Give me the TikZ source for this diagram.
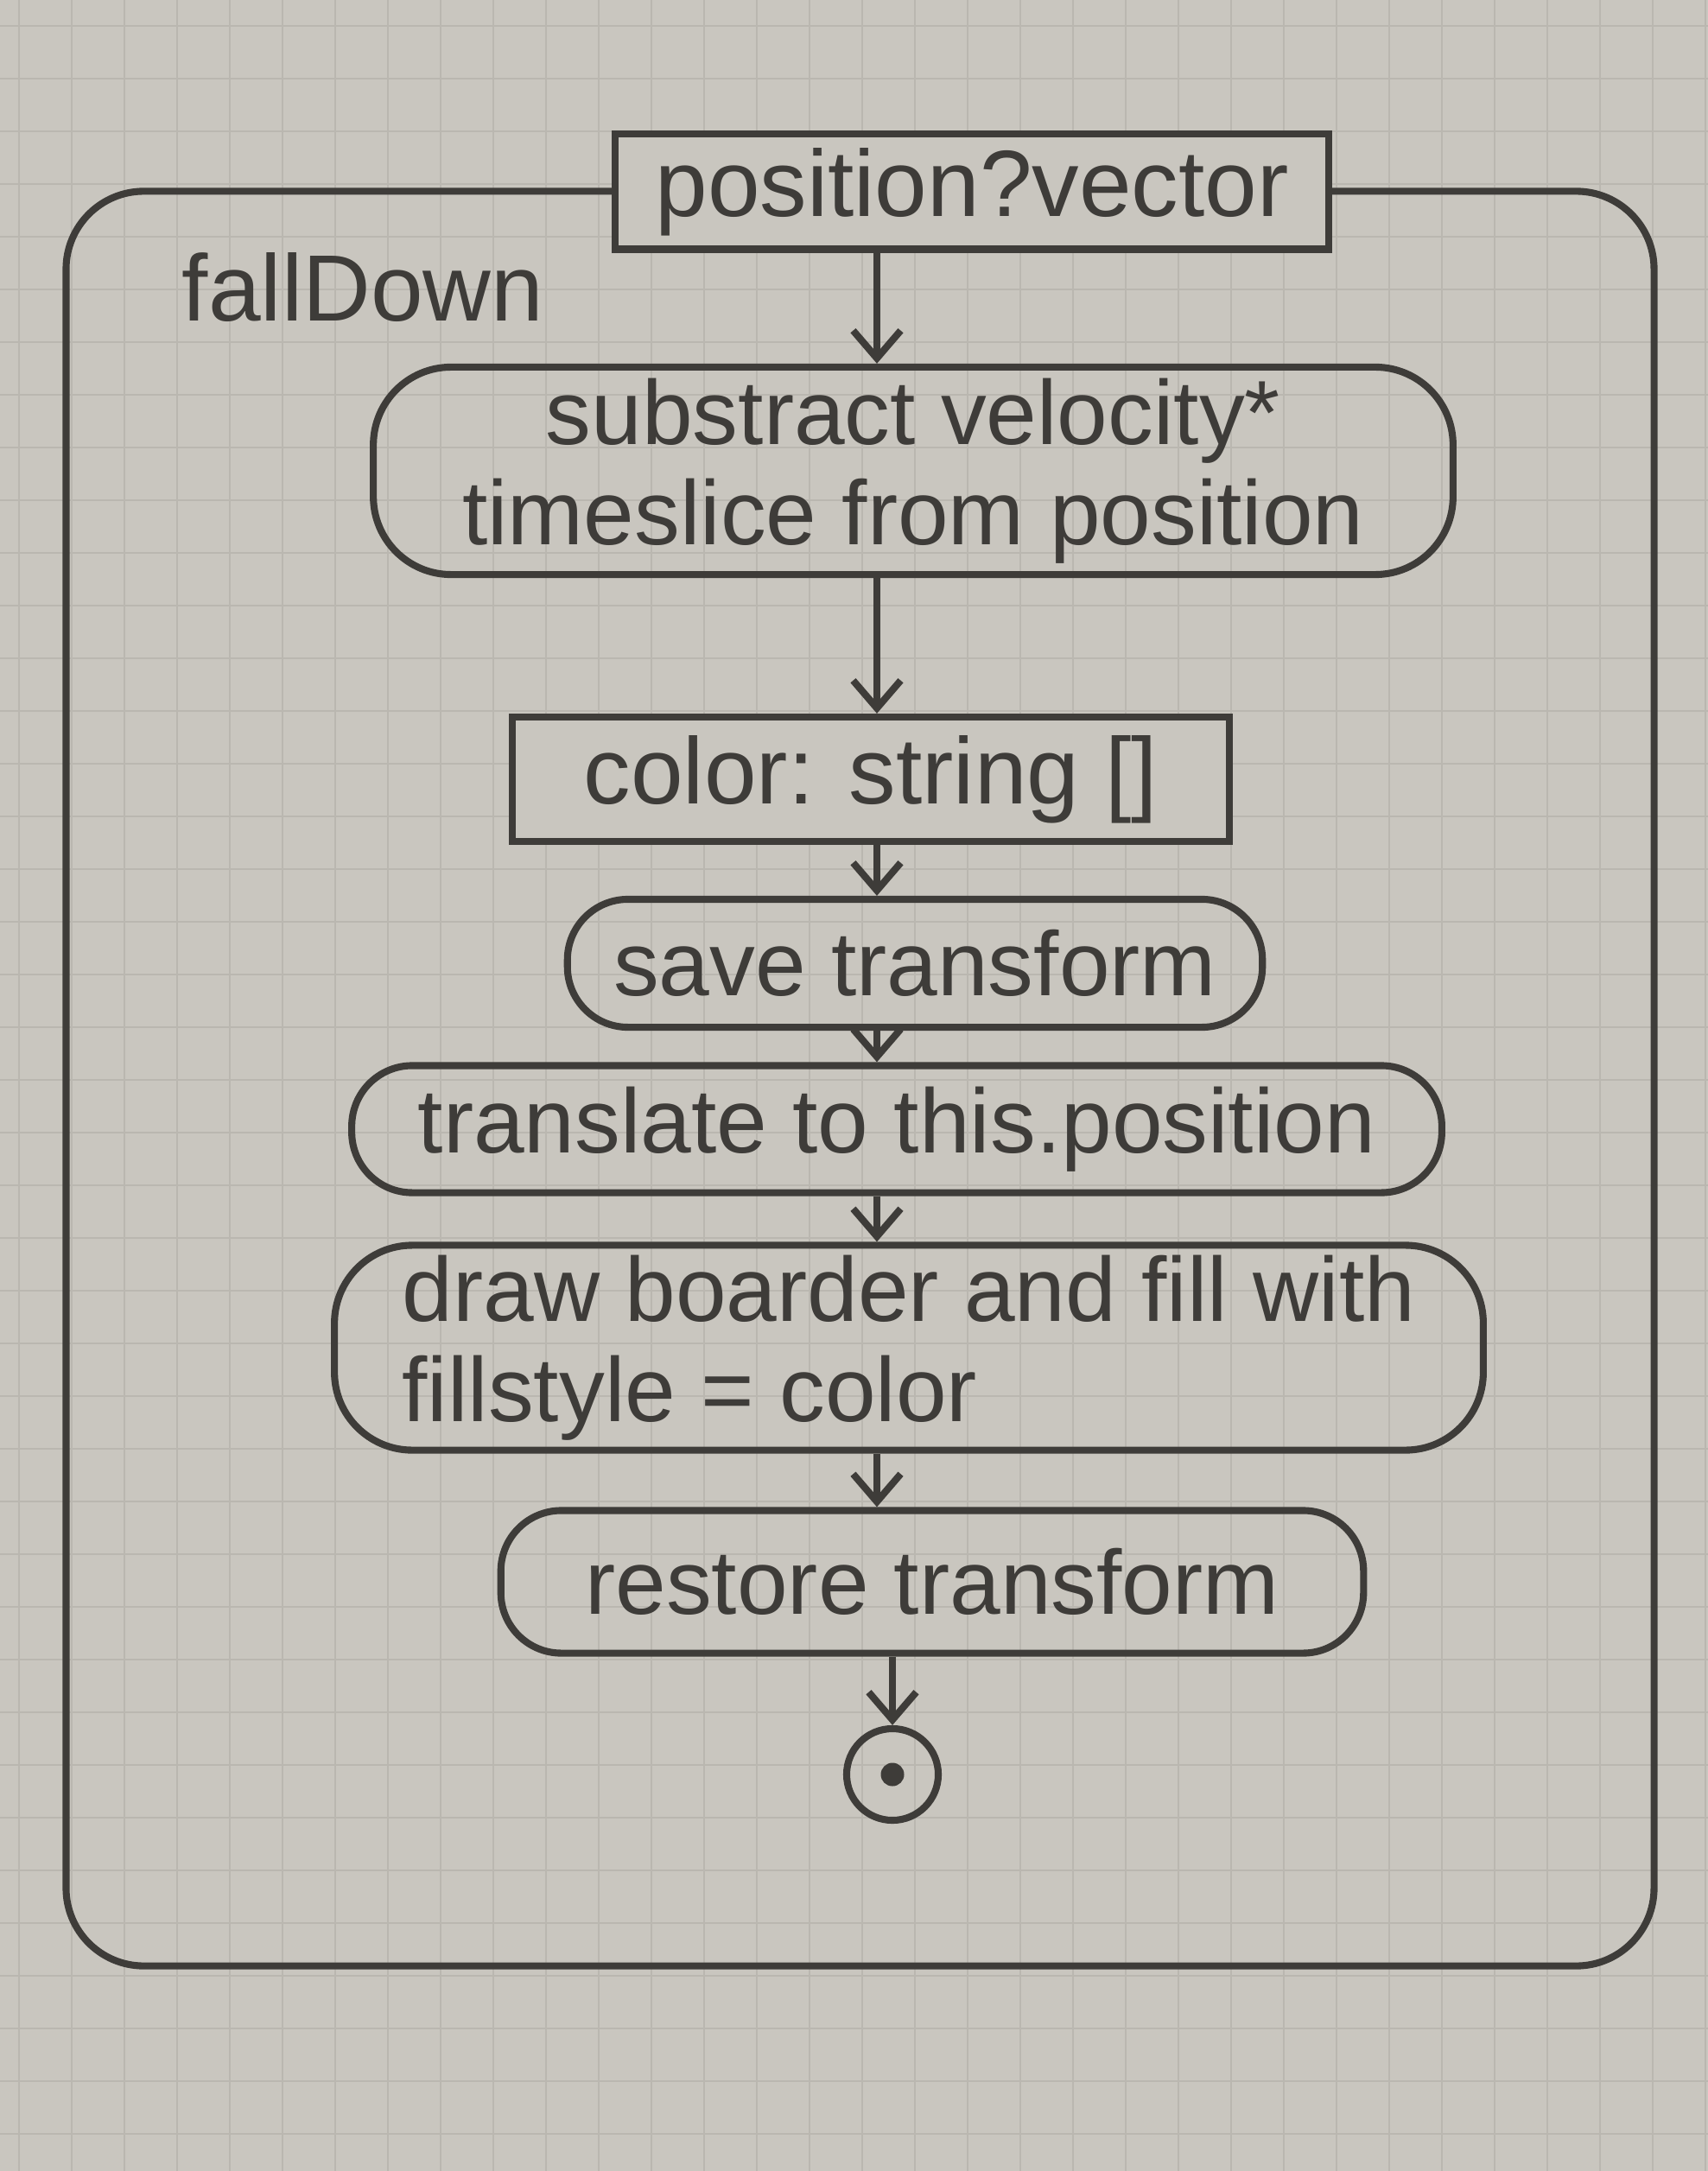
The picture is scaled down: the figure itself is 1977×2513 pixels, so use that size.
\documentclass[tikz,border=0pt]{standalone}
\usepackage{fontspec}
\setmainfont{Liberation Sans}
\usetikzlibrary{arrows.meta,calc}
\definecolor{paper}{HTML}{C9C6BF}
\definecolor{gridc}{HTML}{BAB7B0}
\definecolor{ink}{HTML}{3E3C39}
\tikzset{
  ink line/.style={draw=ink, line width=2.3pt},
  actbox/.style={ink line, rounded corners=0.7cm, inner sep=0pt, align=center, font=\fontsize{30}{33}\selectfont, text=ink},
  objbox/.style={ink line, rectangle, inner sep=0pt, font=\fontsize{31}{34}\selectfont, text=ink, fill=paper},
  flow/.style={ink line, -{Straight Barb[length=0.32cm,width=0.55cm,line width=2.3pt]}},
}
\begin{document}
\begin{tikzpicture}[x=0.01cm,y=-0.01cm]
\fill[paper] (0,0) rectangle (1977,2513);
\useasboundingbox (0,0) rectangle (1977,2513);
\foreach \i in {0,...,32} \draw[gridc, line width=0.6pt] (\i*61+22,0) -- (\i*61+22,2513);
\foreach \j in {0,...,41} \draw[gridc, line width=0.6pt] (0,\j*61+30) -- (1977,\j*61+30);

% frame of the activity
\node[ink line, rounded corners=0.9cm, minimum width=18.37cm, minimum height=20.53cm, inner sep=0pt] (frame) at (995.5,1248.5) {};
\node[font=\fontsize{31}{34}\selectfont, text=ink] (title) at (420,333) {fallDown};

% parameter node
\node[objbox, minimum width=8.25cm, minimum height=1.33cm] (param) at (1125,222) {position?vector};

% actions
\node[actbox, rounded corners=0.9cm, minimum width=12.49cm, minimum height=2.4cm] (sub) at (1057,545) {substract velocity*\\timeslice from position};
\node[objbox, minimum width=8.3cm, minimum height=1.44cm] (col) at (1008,902) {color: string []};
\node[actbox, minimum width=8.04cm, minimum height=1.48cm] (save) at (1059,1115) {save transform};
\node[actbox, minimum width=12.61cm, minimum height=1.47cm] (trans) at (1038,1307) {translate to this.position};
\node[actbox, rounded corners=0.9cm, minimum width=13.29cm, minimum height=2.37cm, align=left] (drawb) at (1052,1560) {draw boarder and fill with\\fillstyle = color\hspace*{4.4cm}};
\node[actbox, minimum width=9.98cm, minimum height=1.65cm] (rest) at (1079,1831) {restore transform};

% final node
\node[ink line, circle, minimum size=1.06cm, inner sep=0pt] (final) at (1033,2054) {};
\node[circle, fill=ink, minimum size=0.27cm, inner sep=0pt] (finaldot) at (final.center) {};

% flow column
\coordinate (c) at (1015,0);
\draw[flow] (param.south -| c) -- (sub.north -| c);
\draw[flow] (sub.south -| c) -- (col.north -| c);
\draw[flow] (col.south -| c) -- (save.north -| c);
\draw[flow] (save.south -| c) -- (trans.north -| c);
\draw[flow] (trans.south -| c) -- (drawb.north -| c);
\draw[flow] (drawb.south -| c) -- (rest.north -| c);
\draw[flow] (rest.south -| final) -- (final.north);
\end{tikzpicture}
\end{document}
